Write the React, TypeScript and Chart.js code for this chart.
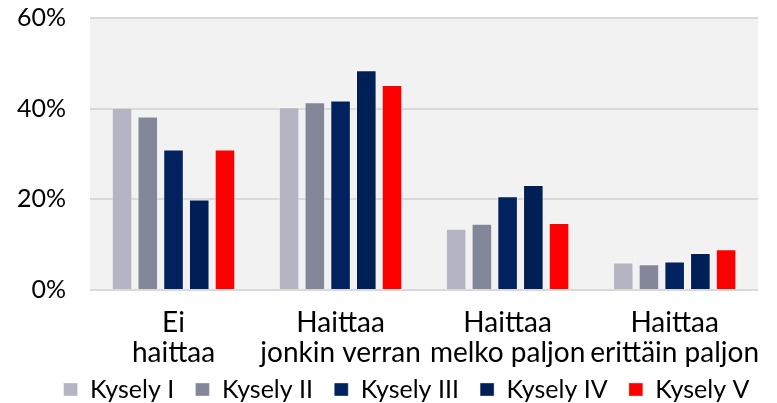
import React, { useEffect, useRef } from "react";
import { Chart, registerables } from "chart.js";

Chart.register(...registerables);

const categories: string[][] = [
  ["Ei", "haittaa"],
  ["Haittaa", "jonkin verran"],
  ["Haittaa", "melko paljon"],
  ["Haittaa", "erittäin paljon"],
];
const seriesNames = ["Kysely I", "Kysely II", "Kysely III", "Kysely IV", "Kysely V"];
const kysely1 = [40.2, 40.3, 13.5, 6.1];
const kysely2 = [38.3, 41.4, 14.6, 5.7];
const kysely3 = [31.0, 41.8, 20.7, 6.3];
const kysely4 = [20.0, 48.5, 23.2, 8.2];
const kysely5 = [31.0, 45.2, 14.8, 9.0];
const seriesColors = ["#b4b4c2", "#848799", "#002360", "#001f57", "#ff0000"];
const yTicks = [0, 20, 40, 60];

const FONT = "Lato, 'DejaVu Sans', sans-serif";

const plotBg = {
  id: "plotBg",
  beforeDraw(chart: any) {
    const { ctx, chartArea } = chart;
    if (!chartArea) return;
    ctx.save();
    ctx.fillStyle = "#f2f2f2";
    ctx.fillRect(chartArea.left, chartArea.top, chartArea.right - chartArea.left, chartArea.bottom - chartArea.top);
    ctx.restore();
  },
};

const legendShift = {
  id: "legendShift",
  afterLayout(chart: any) {
    if (chart.legend) {
      chart.legend.left += 36;
    }
  },
};

export default function App() {
  const ref = useRef<HTMLCanvasElement | null>(null);
  useEffect(() => {
    if (!ref.current) return;
    const values = [kysely1, kysely2, kysely3, kysely4, kysely5];
    const chart = new Chart(ref.current, {
      type: "bar",
      data: {
        labels: categories,
        datasets: seriesNames.map((name, i) => ({
          label: name,
          data: values[i],
          backgroundColor: seriesColors[i],
          borderColor: "rgba(255,255,255,0.35)",
          borderWidth: 1,
          categoryPercentage: 0.77,
          barPercentage: 0.8,
        })),
      },
      options: {
        responsive: false,
        animation: false,
        layout: { padding: { top: 0, right: 0, left: 0, bottom: 1 } },
        plugins: {
          tooltip: { enabled: false },
          legend: {
            position: "bottom",
            maxHeight: 27,
            labels: {
              boxWidth: 14,
              boxHeight: 13,
              padding: 2,
              color: "#000",
              font: { family: FONT, size: 25 },
              generateLabels: (chart: any) => {
                const items = Chart.defaults.plugins.legend.labels.generateLabels(chart);
                return items.map((it: any, idx: number) => ({
                  ...it,
                  text: idx < items.length - 1 ? it.text + "   " : it.text,
                }));
              },
            },
          },
        },
        scales: {
          x: {
            grid: { display: false, drawTicks: false },
            border: { display: false },
            afterFit: (scale: any) => {
              scale.height = scale.height - 11;
            },
            ticks: {
              color: "#000",
              padding: 18,
              maxRotation: 0,
              autoSkip: false,
              font: { family: FONT, size: 28, lineHeight: 1.07 },
            },
          },
          y: {
            min: 0,
            max: 60,
            afterBuildTicks: (axis: any) => {
              axis.ticks = yTicks.map((v) => ({ value: v }));
            },
            afterFit: (scale: any) => {
              scale.width = 90;
              scale.paddingTop = 18;
              scale.paddingBottom = 0;
            },
            grid: { color: "#d9d9d9", lineWidth: 2, drawTicks: false },
            border: { display: false },
            ticks: {
              color: "#000",
              padding: 24,
              font: { family: FONT, size: 25 },
              callback: (v: any) => v + "%",
            },
          },
        },
      },
      plugins: [plotBg, legendShift],
    });
    return () => chart.destroy();
  }, []);
  return (
    <div style={{ position: "absolute", left: 0, top: 0, width: 777, height: 403, background: "#fff" }}>
      <canvas ref={ref} width={777} height={403} />
    </div>
  );
}
